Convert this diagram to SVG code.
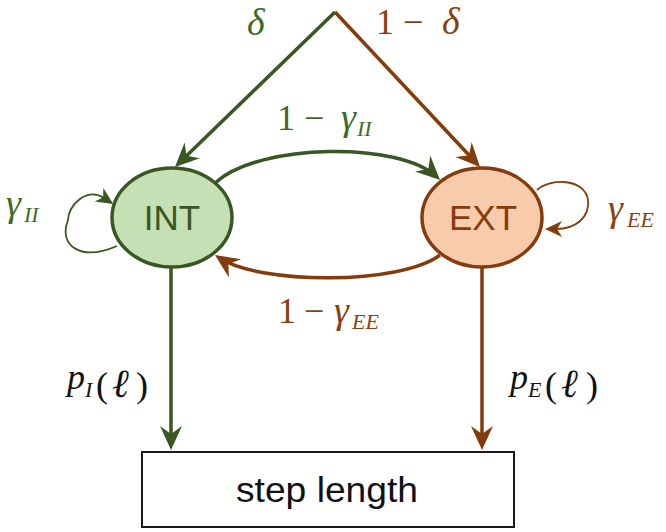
<svg xmlns="http://www.w3.org/2000/svg" width="666" height="532" viewBox="0 0 666 532">
<style>
.g{stroke:#385723;fill:none}
.b{stroke:#843C0C;fill:none}
.main{stroke-width:3.5}
.loop{stroke-width:1.8}
.m{font-family:"Liberation Serif","DejaVu Serif",serif;font-size:36px}
.i{font-style:italic}
.gr{font-style:italic;font-size:38px}
.sub{font-size:22px;font-style:italic}
.tg{fill:#3f6b28}
.tb{fill:#8a3f10}
.node{font-family:"Liberation Sans",Arial,sans-serif;font-size:35px;text-anchor:middle}
</style>
<defs>
<marker id="ag" markerUnits="userSpaceOnUse" viewBox="-2 -14 28 28" markerWidth="28" markerHeight="28" refX="19" refY="0" orient="auto"><path d="M24,0 L0,-11 L8,0 L0,11 Z" fill="#385723"/></marker>
<marker id="ab" markerUnits="userSpaceOnUse" viewBox="-2 -14 28 28" markerWidth="28" markerHeight="28" refX="19" refY="0" orient="auto"><path d="M24,0 L0,-11 L8,0 L0,11 Z" fill="#843C0C"/></marker>
<marker id="lg" markerUnits="userSpaceOnUse" viewBox="-2 -10 22 20" markerWidth="22" markerHeight="20" refX="6" refY="0" orient="auto"><path d="M17,0 L0,-8 L5,0 L0,8 Z" fill="#385723"/></marker>
<marker id="lb" markerUnits="userSpaceOnUse" viewBox="-2 -10 22 20" markerWidth="22" markerHeight="20" refX="6" refY="0" orient="auto"><path d="M17,0 L0,-8 L5,0 L0,8 Z" fill="#843C0C"/></marker>
</defs>
<g id="connectors">
<path class="g main" d="M335,12 L178.6,163.5" marker-end="url(#ag)"/>
<path class="b main" d="M335,12 L476.6,163.3" marker-end="url(#ab)"/>
<path class="g main" d="M215,183 C260,142 400,142 436.4,176.6" marker-end="url(#ag)"/>
<path class="b main" d="M440,255 C400,285 260,285 219.2,257.8" marker-end="url(#ab)"/>
<path class="g main" d="M171,267 L171,445" marker-end="url(#ag)"/>
<path class="b main" d="M482,267 L482,445" marker-end="url(#ab)"/>
<path class="g loop" d="M117,246 C80,262 58,245 68,220 C68,205 87,187 104,198" marker-end="url(#lg)"/>
<path class="b loop" d="M537,190 C550,178 585,178 588,200 C590,218 575,229 556,229" marker-end="url(#lb)"/>
</g>
<g id="INT">
<ellipse cx="172" cy="217.5" rx="60" ry="49.5" fill="#C5E0B4" stroke="#385723" stroke-width="3.5"/>
<text class="node" x="172" y="230" fill="#385723">INT</text>
</g>
<g id="EXT">
<ellipse cx="482" cy="217.5" rx="60" ry="49.5" fill="#F8CBAD" stroke="#843C0C" stroke-width="3.5"/>
<text class="node" x="483" y="230" fill="#843C0C">EXT</text>
</g>
<g id="step-length">
<rect x="142" y="452" width="372" height="75" fill="#ffffff" stroke="#1a1a1a" stroke-width="2"/>
<text x="236" y="502" font-family="Liberation Sans,Arial,sans-serif" font-size="35" textLength="182" lengthAdjust="spacingAndGlyphs" fill="#111">step length</text>
</g>
<g id="labels">
<text class="m gr tg" x="247" y="35" font-size="36px">δ</text>
<text class="m tb" y="34"><tspan x="376">1</tspan><tspan x="403">−</tspan><tspan class="gr" x="442" font-size="36px">δ</tspan></text>
<text class="m tg" y="130"><tspan x="277">1</tspan><tspan x="304">−</tspan><tspan class="gr" x="341">γ</tspan><tspan class="sub" x="357" y="136">II</tspan></text>
<text class="m tb" y="323"><tspan x="278">1</tspan><tspan x="304">−</tspan><tspan class="gr" x="334">γ</tspan><tspan class="sub" x="352" y="329">EE</tspan></text>
<text class="m tg" y="216"><tspan class="gr" x="6">γ</tspan><tspan class="sub" x="24" y="222">II</tspan></text>
<text class="m tb" y="221"><tspan class="gr" x="608">γ</tspan><tspan class="sub" x="627" y="227">EE</tspan></text>
<text class="m" fill="#111" y="389"><tspan class="i" x="67">p</tspan><tspan class="sub" x="85" y="397">I</tspan><tspan x="96">(</tspan><tspan x="112" font-style="italic" font-size="40px">ℓ</tspan><tspan x="136">)</tspan></text>
<text class="m" fill="#111" y="389"><tspan class="i" x="510">p</tspan><tspan class="sub" x="528" y="397">E</tspan><tspan x="545">(</tspan><tspan x="561" font-style="italic" font-size="40px">ℓ</tspan><tspan x="586">)</tspan></text>
</g>
</svg>
